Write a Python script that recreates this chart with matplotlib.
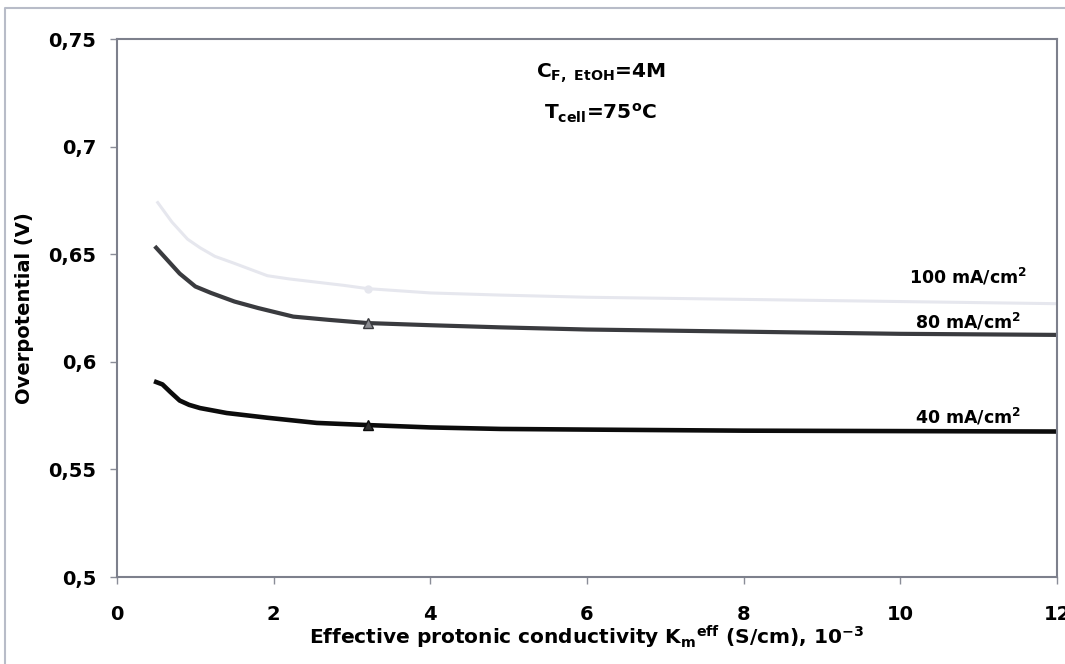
import matplotlib
matplotlib.use('Agg')
import matplotlib.pyplot as plt
from matplotlib.lines import Line2D

plt.rcParams['font.family'] = ['DejaVu Sans']
plt.rcParams['font.weight'] = 'bold'
plt.rcParams['mathtext.fontset'] = 'dejavusans'
plt.rcParams['mathtext.default'] = 'bf'

# values
x_100 = [0.52, 0.6, 0.7, 0.8, 0.9, 1.06, 1.25, 1.48, 1.7, 1.92, 2.2, 2.55, 2.9, 3.2,
         4.0, 4.9, 6, 8, 10, 12]
y_100 = [0.674, 0.670, 0.665, 0.661, 0.657, 0.653, 0.649, 0.646, 0.643, 0.640, 0.6385,
         0.637, 0.6355, 0.634, 0.632, 0.631, 0.630, 0.629, 0.628, 0.627]

x_80 = [0.5, 0.55, 0.6, 0.7, 0.8, 0.9, 1.0, 1.2, 1.5, 1.8, 2.25, 2.7, 3.2,
        4.0, 4.9, 6, 8, 10, 12]
y_80 = [0.653, 0.651, 0.649, 0.645, 0.641, 0.638, 0.635, 0.632, 0.628, 0.625, 0.621,
        0.6195, 0.618, 0.617, 0.616, 0.615, 0.614, 0.613, 0.6125]

x_40 = [0.5, 0.58, 0.68, 0.8, 0.92, 1.06, 1.4, 1.92, 2.55, 3.2,
        4.0, 4.9, 6, 8, 10, 12]
y_40 = [0.5906, 0.5895, 0.586, 0.582, 0.580, 0.5785, 0.5762, 0.574, 0.5716, 0.5706,
        0.5695, 0.5688, 0.5685, 0.568, 0.5678, 0.5676]

# the x = 3.2 point carries the marker
mark_100 = x_100.index(3.2)
mark_80 = x_80.index(3.2)
mark_40 = x_40.index(3.2)

labels = ['100 mA/cm$^2$', '80 mA/cm$^2$', '40 mA/cm$^2$']
label_y = [0.6366, 0.6157, 0.5711]

fig = plt.figure(figsize=(10.65, 6.64), dpi=100)
ax = fig.add_axes([117 / 1065, 1 - 577 / 664, 940 / 1065, 538 / 664])

# outer grey frame of the original figure (only left and top edges are visible)
fx, fy = 5 / 1065, 1 - 8 / 664
fig.lines.append(Line2D([fx, fx, 1.2], [-0.2, fy, fy], transform=fig.transFigure,
                        color='#b8bcc8', lw=1.5))

ax.plot(x_100, y_100, color='#e6e7ee', lw=2.2, marker='o', markersize=5,
        markevery=[mark_100], markerfacecolor='#e6e7ee', markeredgecolor='#e6e7ee')
ax.plot(x_80, y_80, color='#3a3b3f', lw=3.0, marker='^', markersize=7,
        markevery=[mark_80], markerfacecolor='#8a8b90', markeredgecolor='#3a3b3f')
ax.plot(x_40, y_40, color='#0c0c0c', lw=3.3, marker='^', markersize=7,
        markevery=[mark_40], markerfacecolor='#303030', markeredgecolor='#0c0c0c')

for lab, ly in zip(labels, label_y):
    ax.text(10.86, ly, lab, ha='center', va='baseline', fontsize=12.5, fontweight='bold')

ax.text(6.17, 0.734, r'C$_{\mathrm{F,\ EtOH}}$=4M', ha='center', va='center', fontsize=14.5)
ax.text(6.17, 0.7156, r'T$_{\mathrm{cell}}$=75$^{\mathrm{o}}$C', ha='center', va='center', fontsize=14.5)

ax.set_xlim(0, 12)
ax.set_ylim(0.5, 0.75)
ax.set_xticks([0, 2, 4, 6, 8, 10, 12])
ax.set_xticklabels(['0', '2', '4', '6', '8', '10', '12'])
ax.set_yticks([0.5, 0.55, 0.6, 0.65, 0.7, 0.75])
ax.set_yticklabels(['0,5', '0,55', '0,6', '0,65', '0,7', '0,75'])
ax.tick_params(axis='both', direction='out', length=5, width=1, color='#8a8d98',
               labelsize=14)
ax.tick_params(axis='y', pad=10)
ax.tick_params(axis='x', pad=15)
for lab in ax.get_xticklabels() + ax.get_yticklabels():
    lab.set_fontweight('bold')

for s in ax.spines.values():
    s.set_color('#7d808c')
    s.set_linewidth(1.5)

ax.set_xlabel(r'Effective protonic conductivity K$_{\mathrm{m}}$$^{\mathrm{eff}}$ (S/cm), 10$^{\mathrm{-3}}$',
              fontsize=14.5, fontweight='bold', labelpad=0)
ax.set_ylabel('Overpotential (V)', fontsize=14, fontweight='bold', labelpad=10)

fig.savefig('out.png', dpi=100)
